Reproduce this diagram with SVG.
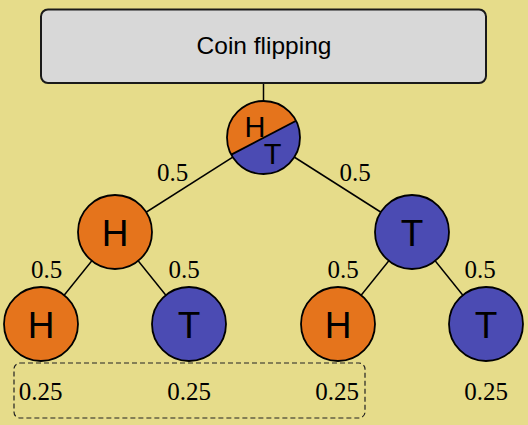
<svg xmlns="http://www.w3.org/2000/svg" width="528" height="425" viewBox="0 0 528 425">
<style>
.edge{stroke:#000;stroke-width:1.5;fill:none}
.node{stroke:#000;stroke-width:1.8}
.h{fill:#E5741C}
.t{fill:#4B4BB3}
.lbl{font-family:"Liberation Sans",Arial,sans-serif;font-size:37px;fill:#000;text-anchor:middle}
.sm{font-family:"Liberation Sans",Arial,sans-serif;font-size:29px;fill:#000;text-anchor:middle}
.num{font-family:"Liberation Serif","Times New Roman",serif;font-size:25px;fill:#000;text-anchor:middle}
</style>
<defs>
<clipPath id="rootclip"><circle cx="263.5" cy="137.5" r="36.5"/></clipPath>
</defs>
<rect x="0" y="0" width="528" height="425" fill="#E6DC8A"/>
<g id="connectors">
<line class="edge" x1="263.5" y1="83" x2="263.5" y2="101"/>
<line class="edge" x1="263.5" y1="137.5" x2="115" y2="232"/>
<line class="edge" x1="263.5" y1="137.5" x2="412" y2="232"/>
<line class="edge" x1="115" y1="232" x2="41" y2="324"/>
<line class="edge" x1="115" y1="232" x2="189" y2="324"/>
<line class="edge" x1="412" y1="232" x2="338" y2="324"/>
<line class="edge" x1="412" y1="232" x2="486" y2="324"/>
</g>
<g id="header">
<rect x="41" y="9.5" width="445" height="73.5" rx="7" ry="7" fill="#D8D8D8" stroke="#1a1a1a" stroke-width="2"/>
<text x="264" y="54" font-family="Liberation Sans,Arial,sans-serif" font-size="24.5" text-anchor="middle" fill="#000">Coin flipping</text>
</g>
<g id="root">
<g clip-path="url(#rootclip)">
<rect x="220" y="95" width="90" height="90" class="t"/>
<polygon points="200,171 330,103 330,90 200,90" class="h"/>
</g>
<line x1="200" y1="171" x2="330" y2="103" stroke="#000" stroke-width="1.8" clip-path="url(#rootclip)"/>
<circle cx="263.5" cy="137.5" r="36.5" fill="none" class="node"/>
<text class="sm" x="255" y="136.5">H</text>
<text class="sm" x="272.5" y="163.5">T</text>
</g>
<g id="nodeH1">
<circle class="node h" cx="115" cy="232" r="37"/>
<text class="lbl" x="115" y="245.5">H</text>
</g>
<g id="nodeT1">
<circle class="node t" cx="412" cy="232" r="37"/>
<text class="lbl" x="412" y="245.5">T</text>
</g>
<g id="nodeHH">
<circle class="node h" cx="41" cy="324" r="37"/>
<text class="lbl" x="41" y="337.5">H</text>
</g>
<g id="nodeHT">
<circle class="node t" cx="189" cy="324" r="37"/>
<text class="lbl" x="189" y="337.5">T</text>
</g>
<g id="nodeTH">
<circle class="node h" cx="338" cy="324" r="37"/>
<text class="lbl" x="338" y="337.5">H</text>
</g>
<g id="nodeTT">
<circle class="node t" cx="486" cy="324" r="37"/>
<text class="lbl" x="486" y="337.5">T</text>
</g>
<g id="edge-labels">
<text class="num" x="172.5" y="181">0.5</text>
<text class="num" x="355" y="181">0.5</text>
<text class="num" x="46.5" y="278">0.5</text>
<text class="num" x="184" y="278">0.5</text>
<text class="num" x="343" y="278">0.5</text>
<text class="num" x="480" y="278">0.5</text>
</g>
<g id="probabilities">
<rect x="14" y="363" width="351" height="55" rx="6" ry="6" fill="none" stroke="#222" stroke-width="1.2" stroke-dasharray="5,3"/>
<text class="num" x="40.5" y="400">0.25</text>
<text class="num" x="189" y="400">0.25</text>
<text class="num" x="337" y="400">0.25</text>
<text class="num" x="486" y="400">0.25</text>
</g>
</svg>
